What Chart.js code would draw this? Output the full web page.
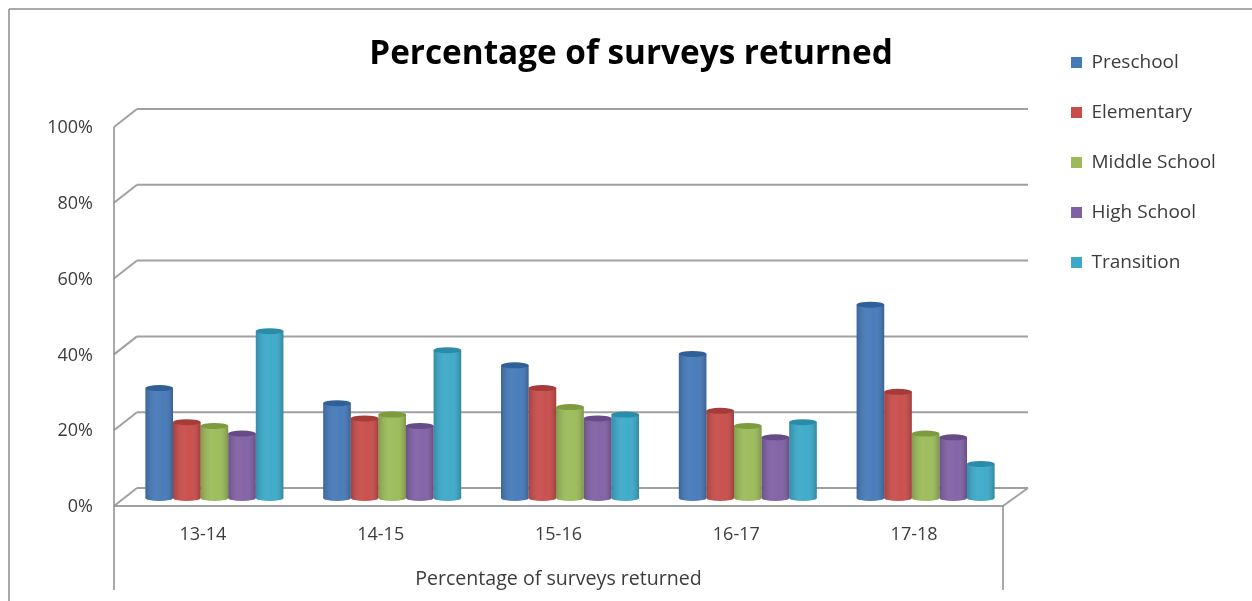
<!DOCTYPE html>
<html>
<head>
<meta charset="utf-8">
<title>Percentage of surveys returned</title>
<script src="https://cdn.jsdelivr.net/npm/chart.js@4"></script>
<style>
  html, body { margin: 0; padding: 0; background: #fff; overflow: hidden; }
  canvas { display: block; }
</style>
</head>
<body>
<canvas id="graph" width="1252" height="601"></canvas>
<script>
const categories = ["13-14", "14-15", "15-16", "16-17", "17-18"];
const preschool = [29, 25, 35, 38, 51];
const elementary = [20, 21, 29, 23, 28];
const middleSchool = [19, 22, 24, 19, 17];
const highSchool = [17, 19, 21, 16, 16];
const transition = [44, 39, 22, 20, 9];

const seriesNames = ["Preschool", "Elementary", "Middle School", "High School", "Transition"];
const seriesValues = [preschool, elementary, middleSchool, highSchool, transition];
const seriesColors = ["#4579b8", "#c84c49", "#9bbb59", "#8060a4", "#3ba9c8"];
const capColors = ["#2f6098", "#a53c39", "#7d9c3d", "#664b88", "#2a8ca8"];

const chartTitle = "Percentage of surveys returned";
const lineColor = "#a0a0a0";
const textColor = "#3c3c3c";
const fontName = "Open Sans";

// depth of the fake 3d box, bars stand about halfway in it
const depthX = 23;
const depthY = 18;
const barShiftY = 8;

function line(ctx, x1, y1, x2, y2) {
  ctx.beginPath();
  ctx.moveTo(x1, y1);
  ctx.lineTo(x2, y2);
  ctx.stroke();
}

function eachBar(chart, fn) {
  chart.data.datasets.forEach(function (ds, i) {
    chart.getDatasetMeta(i).data.forEach(function (bar) {
      fn(bar, i);
    });
  });
}

const box3d = {
  id: "box3d",
  afterLayout(chart) {
    // title is centred on the whole frame, not on the plot
    chart.titleBlock.left = 10;
    chart.titleBlock.right = 1252;
    // legend sits apart from the plot, to the right of the box
    chart.legend.left = 1040;
    chart.legend.right = 1252;
    chart.legend.top = 22;
    chart.legend.bottom = 600;
    chart.legend.adjustHitBoxes();
  },
  beforeDraw(chart) {
    const ctx = chart.ctx;
    const area = chart.chartArea;
    const y = chart.scales.y;
    ctx.save();

    // outer frame
    ctx.strokeStyle = "#8c8c8c";
    ctx.lineWidth = 1.5;
    line(ctx, 9, 601, 9, 9);
    line(ctx, 9, 9, 1252, 9);

    // back wall lines and the left diagonals
    ctx.strokeStyle = lineColor;
    ctx.lineWidth = 2;
    y.ticks.forEach(function (t) {
      const py = y.getPixelForValue(t.value);
      line(ctx, area.left, py, area.left + depthX, py - depthY);
      line(ctx, area.left + depthX, py - depthY, area.right + depthX + 2, py - depthY);
    });

    // floor and front edges
    line(ctx, area.left, area.bottom, area.right, area.bottom);
    line(ctx, area.right, area.bottom, area.right + depthX + 2, area.bottom - depthY);
    ctx.lineWidth = 1.5;
    ctx.strokeStyle = "#8c8c8c";
    line(ctx, area.left, area.top, area.left, 590);
    line(ctx, area.right, area.bottom, area.right, 590);
    ctx.restore();
  },
  beforeDatasetsDraw(chart) {
    const ctx = chart.ctx;
    ctx.save();
    ctx.translate(depthX / 2, -barShiftY);
    eachBar(chart, function (bar, i) {
      ctx.fillStyle = seriesColors[i];
      ctx.beginPath();
      ctx.ellipse(bar.x, bar.base, bar.width / 2, 3, 0, 0, Math.PI * 2);
      ctx.fill();
    });
  },
  afterDatasetsDraw(chart) {
    const ctx = chart.ctx;
    eachBar(chart, function (bar, i) {
      const left = bar.x - bar.width / 2;
      const right = bar.x + bar.width / 2;
      const shade = ctx.createLinearGradient(left, 0, right, 0);
      shade.addColorStop(0, "rgba(0,0,0,0.16)");
      shade.addColorStop(0.4, "rgba(255,255,255,0.06)");
      shade.addColorStop(0.65, "rgba(255,255,255,0.03)");
      shade.addColorStop(1, "rgba(0,0,0,0.2)");
      ctx.fillStyle = shade;
      ctx.beginPath();
      ctx.moveTo(left, bar.y);
      ctx.lineTo(right, bar.y);
      ctx.lineTo(right, bar.base);
      ctx.ellipse(bar.x, bar.base, bar.width / 2, 3, 0, 0, Math.PI);
      ctx.closePath();
      ctx.fill();

      ctx.fillStyle = capColors[i];
      ctx.beginPath();
      ctx.ellipse(bar.x, bar.y, bar.width / 2, 3, 0, 0, Math.PI * 2);
      ctx.fill();
    });
    ctx.restore();
  }
};

let myChart = new Chart(document.getElementById("graph").getContext("2d"), {
  type: "bar",
  data: {
    labels: categories,
    datasets: seriesNames.map(function (name, i) {
      return {
        label: name,
        data: seriesValues[i],
        backgroundColor: seriesColors[i],
        borderWidth: 0,
        categoryPercentage: 0.776,
        barPercentage: 1
      };
    })
  },
  options: {
    responsive: false,
    animation: false,
    layout: {
      padding: { left: 10, top: 35, right: 249, bottom: 0 }
    },
    plugins: {
      title: {
        display: true,
        text: chartTitle,
        color: "#000",
        font: { family: fontName, size: 33.3, weight: "bold" },
        padding: { top: 0, bottom: 52 }
      },
      legend: {
        position: "chartArea",
        align: "start",
        labels: {
          boxWidth: 11,
          boxHeight: 11,
          padding: 31,
          color: textColor,
          font: { family: fontName, size: 19 }
        }
      },
      tooltip: { enabled: false }
    },
    scales: {
      x: {
        afterFit(scale) { scale.height = 95; },
        grid: { display: false, drawTicks: false },
        border: { display: false },
        ticks: {
          padding: 18,
          color: textColor,
          font: { family: fontName, size: 18 }
        },
        title: {
          display: true,
          text: chartTitle,
          color: textColor,
          font: { family: fontName, size: 19.6 },
          padding: { top: 0, bottom: 10 }
        }
      },
      y: {
        min: 0,
        max: 100,
        afterFit(scale) { scale.width = 104; },
        grid: { display: false, drawTicks: false },
        border: { display: false },
        ticks: {
          stepSize: 20,
          padding: 21,
          labelOffset: 1,
          color: textColor,
          font: { family: fontName, size: 18 },
          callback: function (v) { return v + "%"; }
        }
      }
    }
  },
  plugins: [box3d]
});
</script>
</body>
</html>
